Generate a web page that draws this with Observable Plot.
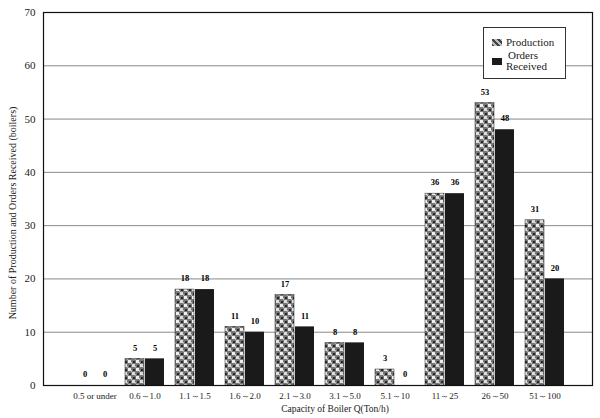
<!DOCTYPE html>
<html>
<head>
<meta charset="utf-8">
<script src="https://cdn.jsdelivr.net/npm/d3@7"></script>
<script src="https://cdn.jsdelivr.net/npm/@observablehq/plot@0.6"></script>
<style>
  html, body { margin: 0; padding: 0; background: #fff; }
  #wrap { position: relative; width: 600px; height: 418px; font-family: "Liberation Serif", "DejaVu Serif", serif; }
  #legend { position: absolute; left: 483px; top: 27px; width: 81px; height: 50px; border: 1px solid #333; background: #fff; font-size: 11px; color: #222; }
  .sw { position: absolute; width: 10px; height: 7px; }
  .lt { position: absolute; line-height: 11px; }
</style>
</head>
<body>
<svg width="0" height="0" style="position:absolute">
  <defs>
    <pattern id="mottle" width="8" height="8" patternUnits="userSpaceOnUse">
      <rect width="8" height="8" fill="#777"/>
      <rect x="0" y="0" width="3" height="3" fill="#eee"/>
      <rect x="4" y="4" width="3" height="3" fill="#ddd"/>
      <rect x="5" y="1" width="2" height="2" fill="#222"/>
      <rect x="1" y="5" width="2" height="2" fill="#2a2a2a"/>
      <rect x="3" y="2" width="1" height="2" fill="#bbb"/>
      <rect x="7" y="6" width="1" height="2" fill="#aaa"/>
    </pattern>
  </defs>
</svg>
<div id="wrap">
  <div id="chart"></div>
  <div id="legend">
    <div class="sw" style="left:8px;top:11px;background:repeating-linear-gradient(45deg,#444 0 2px,#bbb 2px 4px);"></div>
    <div class="lt" style="left:22px;top:9px;">Production</div>
    <div class="sw" style="left:8px;top:30px;background:#1a1a1a;"></div>
    <div class="lt" style="left:24px;top:22px;">Orders</div>
    <div class="lt" style="left:22px;top:33px;">Received</div>
  </div>
</div>
<script>
const categories = ["0.5 or under", "0.6～1.0", "1.1～1.5", "1.6～2.0", "2.1～3.0", "3.1～5.0", "5.1～10", "11～25", "26～50", "51～100"];
const production = [0, 5, 18, 11, 17, 8, 3, 36, 53, 31];
const ordersReceived = [0, 5, 18, 10, 11, 8, 0, 36, 48, 20];
const yTicks = [0, 10, 20, 30, 40, 50, 60, 70];

const prodData = categories.map((c, i) => ({cat: c, value: production[i]}));
const ordData = categories.map((c, i) => ({cat: c, value: ordersReceived[i]}));

const font = "Liberation Serif, DejaVu Serif, serif";

const chart = Plot.plot({
  width: 600,
  height: 418,
  marginTop: 12,
  marginBottom: 33,
  marginLeft: 43,
  marginRight: 8,
  style: {fontFamily: font, fontSize: "10px", color: "#222", background: "#fff"},
  x: {type: "band", domain: categories, padding: 0.22, insetLeft: 19, insetRight: 15, label: null},
  y: {domain: [0, 70], ticks: yTicks, label: null},
  marks: [
    Plot.gridY(yTicks.filter(d => d > 0 && d < 70), {stroke: "#555", strokeOpacity: 1, strokeWidth: 0.7}),
    Plot.barY(prodData, {x: "cat", y: "value", fill: "url(#mottle)", stroke: "#222", strokeWidth: 0.5, insetRight: 20}),
    Plot.barY(ordData, {x: "cat", y: "value", fill: "#1a1a1a", insetLeft: 20}),
    Plot.text(prodData, {x: "cat", y: "value", text: d => String(d.value), dx: -10, dy: -11, fontSize: 8.5, fontWeight: "bold", fill: "black"}),
    Plot.text(ordData, {x: "cat", y: "value", text: d => String(d.value), dx: 10, dy: -11, fontSize: 8.5, fontWeight: "bold", fill: "black"}),
    Plot.axisY({ticks: yTicks, tickSize: 0, tickPadding: 8, fontSize: 11, label: null}),
    Plot.axisX({tickSize: 0, tickPadding: 7, fontSize: 9, label: null}),
    Plot.frame({stroke: "#111", strokeWidth: 1.2}),
    Plot.text(["Number of Production and Orders Received (boilers)"], {frameAnchor: "left", textAnchor: "middle", dx: -31, dy: 14, rotate: -90, fontSize: 10, fill: "#222"}),
    Plot.text(["Capacity of Boiler Q(Ton/h)"], {frameAnchor: "bottom", dy: 26, dx: 17, fontSize: 9.5, fill: "#222"})
  ]
});
document.getElementById("chart").appendChild(chart);
</script>
</body>
</html>
